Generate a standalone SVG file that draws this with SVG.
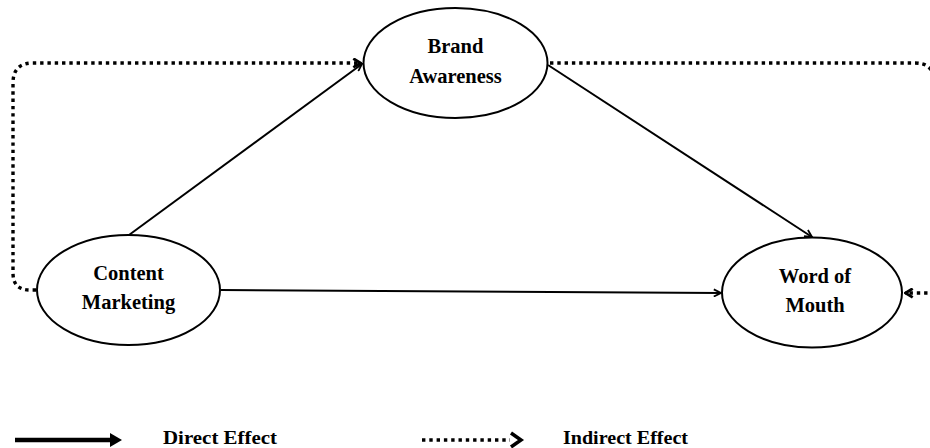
<svg xmlns="http://www.w3.org/2000/svg" width="930" height="448" viewBox="0 0 930 448">
<style>
.node ellipse{fill:#fff;stroke:#000;stroke-width:2}
text{font-family:"Liberation Serif","Times New Roman",serif;font-weight:bold;font-size:20.5px;fill:#000;text-anchor:middle}
.legend text{font-size:19px}
.solid{fill:none;stroke:#000;stroke-width:2}
.dot{fill:none;stroke:#000;stroke-width:3.4;stroke-dasharray:3.4 3.9}
</style>
<defs>
<marker id="open" viewBox="0 0 10 10" refX="9" refY="5" markerWidth="9" markerHeight="9" markerUnits="userSpaceOnUse" orient="auto">
<path d="M1,1 L9,5 L1,9" fill="none" stroke="#000" stroke-width="2"/>
</marker>
<marker id="openDot" viewBox="0 0 10 10" refX="9" refY="5" markerWidth="11" markerHeight="11" markerUnits="userSpaceOnUse" orient="auto">
<path d="M2,1 L8.5,5 L2,9" fill="none" stroke="#000" stroke-width="2.6"/>
</marker>
</defs>
<rect width="930" height="448" fill="#fff"/>
<g id="connectors">
<line class="solid" x1="129" y1="235" x2="362" y2="64" marker-end="url(#open)"/>
<line class="solid" x1="548" y1="65" x2="812" y2="237" marker-end="url(#open)"/>
<line class="solid" x1="221" y1="290" x2="721" y2="293" marker-end="url(#open)"/>
<path class="dot" d="M36,290 L30,290 Q13,290 13,273 L13,83 Q13,63 33,63 L361,63" marker-end="url(#openDot)"/>
<path class="dot" d="M550,63 L915,63 Q933,63 934,80 L934,293 L905,293" marker-end="url(#openDot)"/>
</g>
<g id="brand-awareness" class="node">
<ellipse cx="455.5" cy="63" rx="92" ry="55"/>
<text x="455.5" y="53">Brand</text>
<text x="455.5" y="83">Awareness</text>
</g>
<g id="content-marketing" class="node">
<ellipse cx="128.5" cy="290" rx="91.5" ry="55"/>
<text x="128.5" y="280">Content</text>
<text x="128.5" y="309">Marketing</text>
</g>
<g id="word-of-mouth" class="node">
<ellipse cx="812" cy="292.5" rx="90" ry="55"/>
<text x="815" y="283">Word of</text>
<text x="815" y="312">Mouth</text>
</g>
<g id="legend" class="legend">
<line x1="15" y1="440" x2="112" y2="440" stroke="#000" stroke-width="4.5"/>
<path d="M110,433 L122,440 L110,447 Z" fill="#000"/>
<text x="220" y="444" textLength="114" lengthAdjust="spacingAndGlyphs">Direct Effect</text>
<line class="dot" x1="422" y1="440" x2="510" y2="440"/>
<path d="M511,433 L521,440 L511,447" fill="none" stroke="#000" stroke-width="3.5"/>
<text x="625.5" y="444" textLength="125" lengthAdjust="spacingAndGlyphs">Indirect Effect</text>
</g>
</svg>
